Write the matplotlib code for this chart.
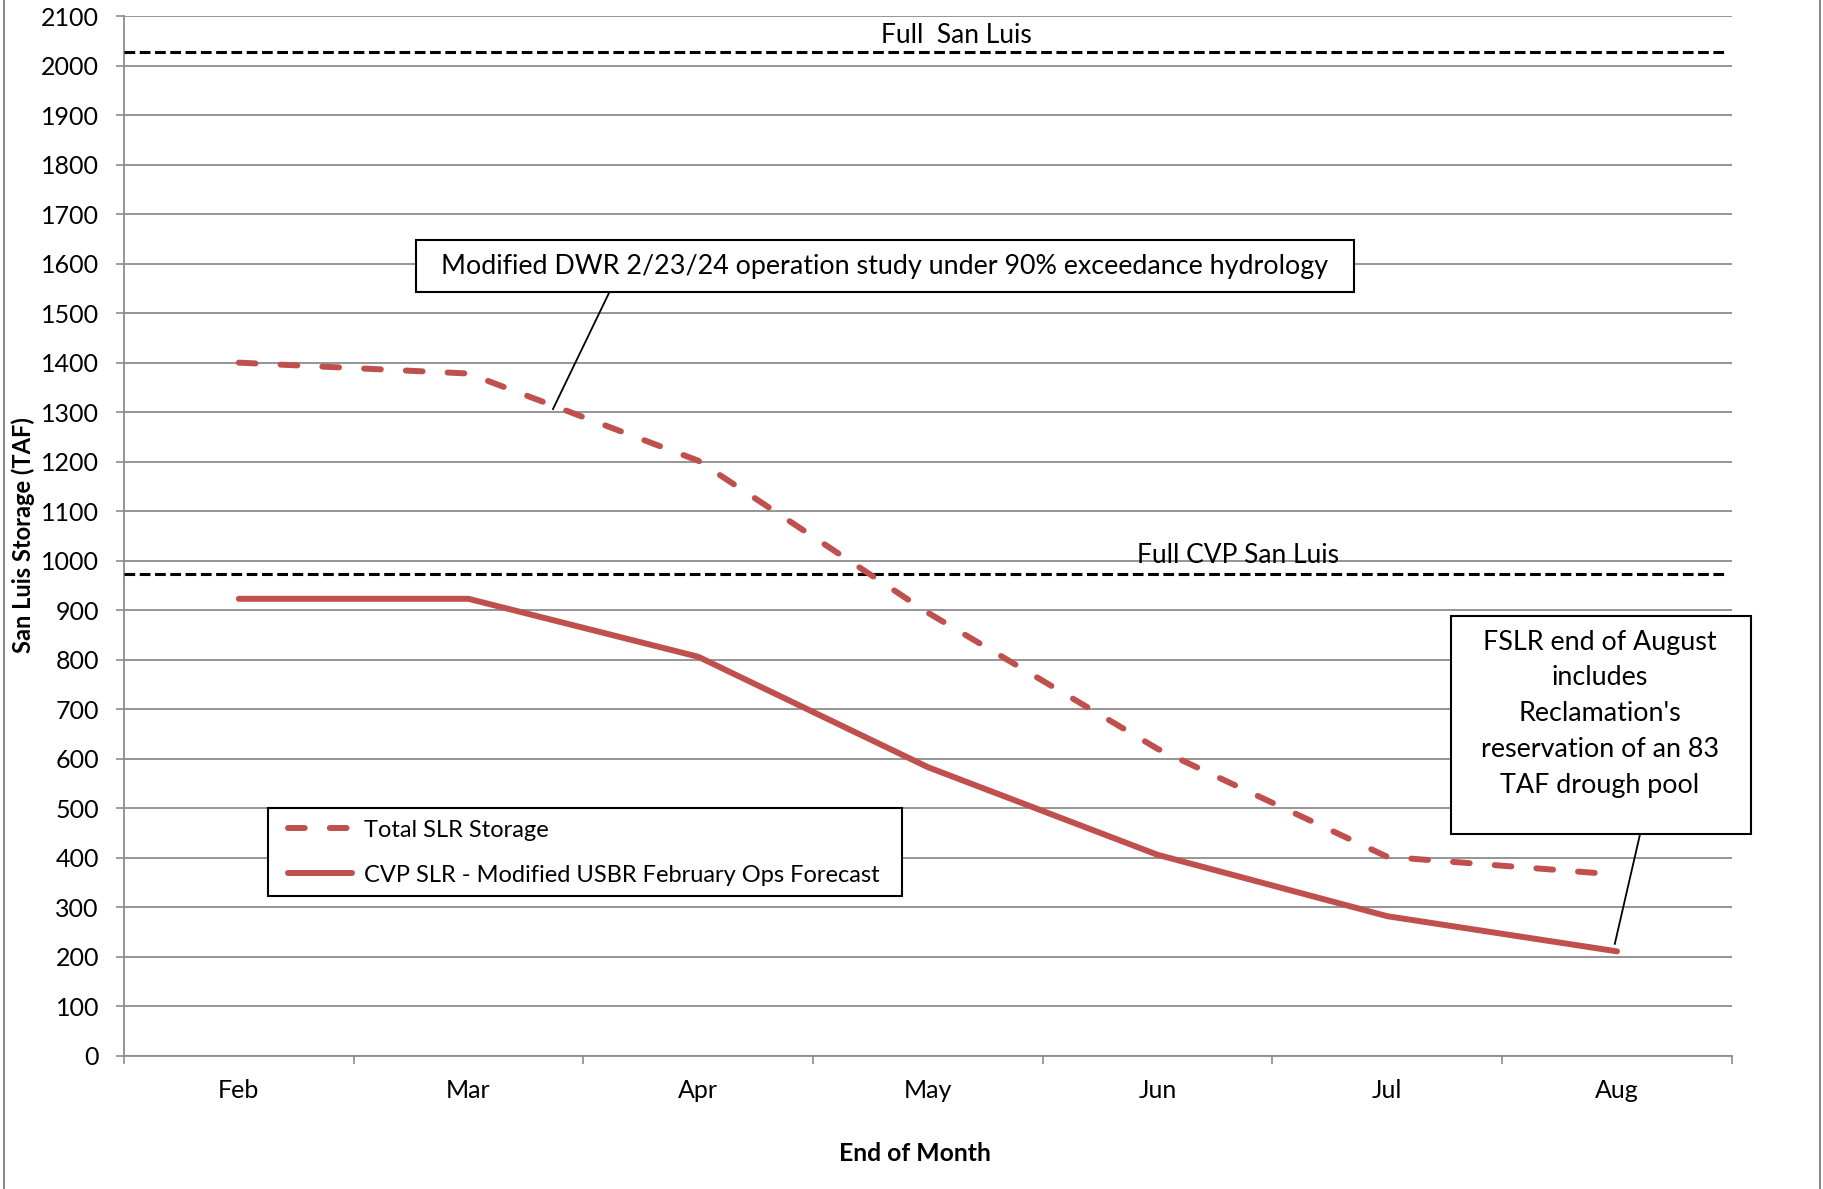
import matplotlib
matplotlib.use("Agg")
import matplotlib.pyplot as plt
from matplotlib.patches import Rectangle
from matplotlib.lines import Line2D
import numpy as np

# Month-end storage (TAF)
months = ["Feb", "Mar", "Apr", "May", "Jun", "Jul", "Aug"]
total_slr = [1400, 1378, 1202, 895, 620, 402, 366]
cvp_slr = [923, 923, 806, 583, 406, 282, 211]

full_san_luis = 2028
full_cvp_san_luis = 973

total_label = "Total SLR Storage"
cvp_label = "CVP SLR - Modified USBR February Ops Forecast"
note_dwr = "Modified DWR 2/23/24 operation study under 90% exceedance hydrology"
note_fslr = ("FSLR end of August\nincludes\nReclamation's\n"
             "reservation of an 83\nTAF drough pool")

plt.rcParams["font.family"] = ["Lato", "DejaVu Sans"]

RED = "#c0504d"
GRID = "#8c8c8c"
FS = 18
FS_NOTE = 19.4

fig = plt.figure(figsize=(18.23, 11.89), dpi=100)
ax = fig.add_axes([0.068, 0.112, 0.882, 0.8745])

x = np.arange(len(months))

# Data series
ax.plot(x, total_slr, color=RED, linewidth=4.3, linestyle=(0, (2.8, 4.2)),
        dash_capstyle="round", solid_joinstyle="round", label=total_label, zorder=4)
ax.plot(x, cvp_slr, color=RED, linewidth=4.3, solid_capstyle="round",
        solid_joinstyle="round", label=cvp_label, zorder=4)

# Reference capacity lines
ax.axhline(full_san_luis, xmin=0, xmax=0.995, color="black", linewidth=2.2,
           linestyle=(0, (3.5, 1.5)), zorder=3)
ax.axhline(full_cvp_san_luis, xmin=0, xmax=0.995, color="black", linewidth=2.2,
           linestyle=(0, (3.5, 1.5)), zorder=3)
ax.text(0.518, 0.981, "Full  San Luis", transform=ax.transAxes, ha="center",
        va="center", fontsize=19, zorder=5)
ax.text(0.693, 0.481, "Full CVP San Luis", transform=ax.transAxes, ha="center",
        va="center", fontsize=19, zorder=5)

# Axes styling
ax.set_xlim(-0.5, len(months) - 0.5)
ax.set_ylim(0, 2100)
ax.set_yticks(np.arange(0, 2101, 100))
ax.set_xticks(x)
ax.set_xticklabels(months)
ax.set_xticks(np.arange(-0.5, len(months), 1.0), minor=True)
ax.tick_params(axis="x", which="major", length=0, pad=16.5, labelsize=FS)
ax.tick_params(axis="x", which="minor", length=6, width=1.2, color=GRID, direction="out")
ax.tick_params(axis="y", length=6, width=1.2, color=GRID, pad=12, labelsize=FS)
ax.yaxis.grid(True, color=GRID, linewidth=1.3)
ax.set_axisbelow(True)
for side in ["top", "right"]:
    ax.spines[side].set_visible(False)
for side in ["left", "bottom"]:
    ax.spines[side].set_color(GRID)
    ax.spines[side].set_linewidth(1.3)

fig.text(0.0126, 0.55, "San Luis Storage (TAF)", rotation=90, ha="center",
         va="center", fontsize=17, fontweight="bold")
fig.text(0.502, 0.030, "End of Month", ha="center", va="center",
         fontsize=17.8, fontweight="bold")

# Legend (frame drawn separately so its padding can match)
ax.add_patch(Rectangle((0.0898, 0.1535), 0.3942, 0.085, transform=ax.transAxes,
                       facecolor="white", edgecolor="black", linewidth=1.5,
                       zorder=6))
leg = ax.legend(loc="center left", bbox_to_anchor=(0.102, 0.1955), borderaxespad=0,
                fontsize=17, frameon=False, handlelength=2.7, handletextpad=0.54,
                labelspacing=1.02, borderpad=0)
leg.set_zorder(7)

# Callout 1
ax.add_patch(Rectangle((0.1816, 0.7346), 0.5834, 0.05, transform=ax.transAxes,
                       facecolor="white", edgecolor="black", linewidth=1.5,
                       zorder=6, clip_on=False))
ax.text(0.473, 0.7596, note_dwr, transform=ax.transAxes, ha="center",
        va="center", fontsize=FS_NOTE, zorder=7)
ax.add_line(Line2D([0.3016, 0.2668], [0.7335, 0.6220], transform=ax.transAxes,
                   color="black", linewidth=1.3, zorder=6))

# Callout 2
ax.add_patch(Rectangle((0.8253, 0.2135), 0.1865, 0.2095, transform=ax.transAxes,
                       facecolor="white", edgecolor="black", linewidth=1.5,
                       zorder=6, clip_on=False))
ax.text(0.918, 0.329, note_fslr, transform=ax.transAxes, ha="center",
        va="center", fontsize=FS_NOTE, linespacing=1.54, zorder=7)
ax.add_line(Line2D([0.9428, 0.9272], [0.2125, 0.1077], transform=ax.transAxes,
                   color="black", linewidth=1.3, zorder=6, clip_on=False))

# Outer chart border
fig.add_artist(Line2D([0.002, 0.002], [0, 1], transform=fig.transFigure,
                      color=GRID, linewidth=1.5))
fig.add_artist(Line2D([0.9985, 0.9985], [0, 1], transform=fig.transFigure,
                      color=GRID, linewidth=1.5))

fig.savefig("out.png", dpi=100)
